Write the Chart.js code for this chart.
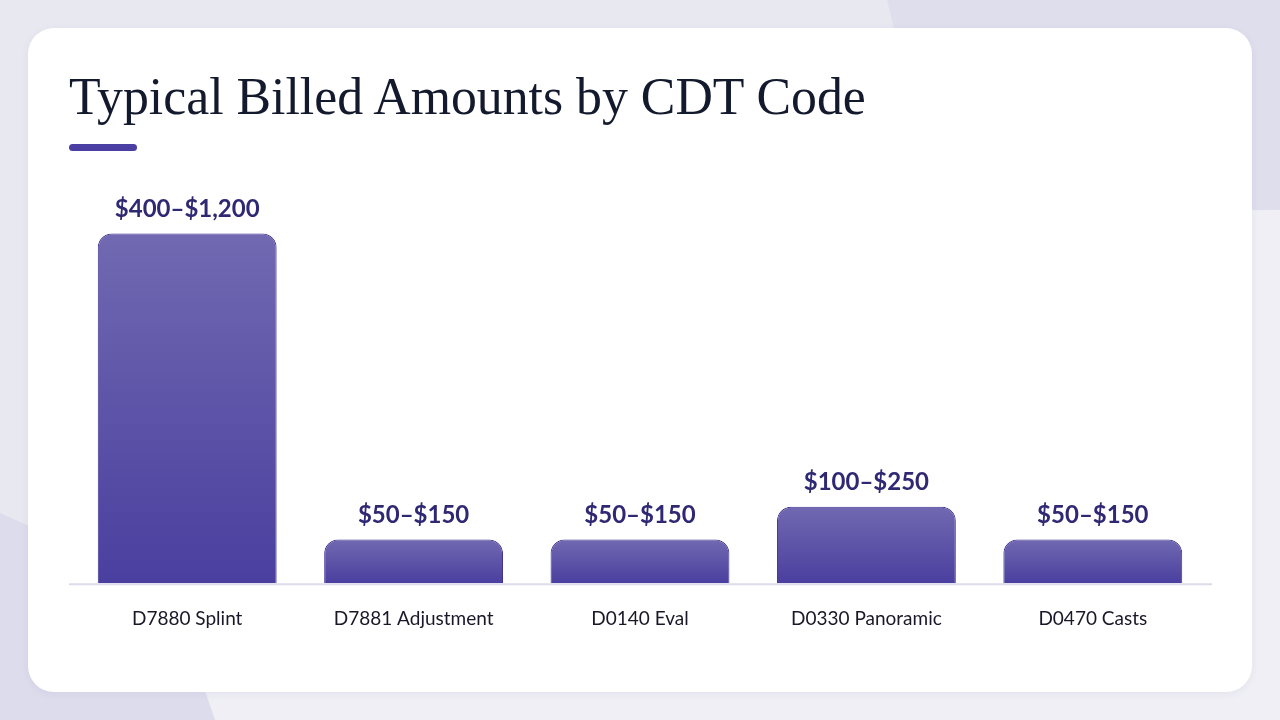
<!DOCTYPE html>
<html>
<head>
<meta charset="utf-8">
<script src="https://cdn.jsdelivr.net/npm/chart.js@4.4.1/dist/chart.umd.min.js"></script>
<style>
  html, body { margin: 0; padding: 0; width: 1280px; height: 720px; overflow: hidden; }
  body { position: relative; background: #e8e8f1; font-family: "Lato", sans-serif; }
  .shape { position: absolute; left: 0; top: 0; width: 1280px; height: 720px; }
  .tr { background: #dfdeec; clip-path: polygon(887px 0, 1280px 0, 1280px 210px, 1100px 212px, 960px 300px); }
  .br { background: #efeff5; clip-path: polygon(215px 720px, 1280px 720px, 1280px 210px, 1100px 212px, 600px 560px, 190px 640px); }
  .bl { background: #dddcec; clip-path: polygon(0 513px, 60px 540px, 190px 650px, 215px 720px, 0 720px); }
  .card { position: absolute; left: 28px; top: 28px; width: 1224px; height: 664px; background: #ffffff; border-radius: 26px; box-shadow: 0 2px 8px rgba(60,50,140,0.06); }
  h1 { position: absolute; left: 69px; top: 66px; margin: 0; font-family: "Liberation Serif", "DejaVu Serif", serif; font-weight: 400; font-size: 48px; color: #141a2e; white-space: nowrap; line-height: 1.2; }
  .accent { position: absolute; left: 69px; top: 144px; width: 68px; height: 7px; border-radius: 4px; background: #4b3fa3; }
  #wrap { position: absolute; left: 0; top: 0; width: 1280px; height: 720px; }
</style>
</head>
<body>
<div class="shape tr"></div>
<div class="shape br"></div>
<div class="shape bl"></div>
<div class="card"></div>
<h1 id="title">Typical Billed Amounts by CDT Code</h1>
<div class="accent"></div>
<div id="wrap"><canvas id="c" width="1280" height="720"></canvas></div>
<script>
// fit title width to reference (~796px)
(function(){
  const t = document.getElementById('title');
  const w = t.getBoundingClientRect().width;
  const fs = 48 * 797 / w;
  t.style.fontSize = fs.toFixed(2) + 'px';
})();

const categories = ["D7880 Splint", "D7881 Adjustment", "D0140 Eval", "D0330 Panoramic", "D0470 Casts"];
const rangeLabels = ["$400\u2013$1,200", "$50\u2013$150", "$50\u2013$150", "$100\u2013$250", "$50\u2013$150"];
const midpointValues = [800, 100, 100, 175, 100];

function barGradient(ctx) {
  const chart = ctx.chart;
  if (!chart.chartArea || ctx.type !== 'data') return '#5b51a8';
  const y = chart.scales.y;
  const top = y.getPixelForValue(ctx.raw);
  const bottom = y.getPixelForValue(0);
  const g = chart.ctx.createLinearGradient(0, top, 0, bottom);
  g.addColorStop(0, '#7169b1');
  g.addColorStop(1, '#4a3f9f');
  return g;
}

const baselinePlugin = {
  id: 'baseline',
  beforeDatasetsDraw(chart) {
    const c = chart.ctx;
    const y = chart.scales.y.getPixelForValue(0);
    c.save();
    c.strokeStyle = '#dcdbea';
    c.lineWidth = 2;
    c.beginPath();
    c.moveTo(chart.chartArea.left - 5, y + 1);
    c.lineTo(chart.chartArea.right + 6, y + 1);
    c.stroke();
    c.restore();
  }
};

const valueLabelPlugin = {
  id: 'valueLabels',
  afterDatasetsDraw(chart) {
    const c = chart.ctx;
    const meta = chart.getDatasetMeta(0);
    c.save();
    c.font = '700 24px "Lato", sans-serif';
    c.fillStyle = '#2f2873';
    c.textAlign = 'center';
    c.textBaseline = 'middle';
    meta.data.forEach((bar, i) => {
      c.fillText(rangeLabels[i], bar.x, bar.y - 24);
    });
    c.restore();
  }
};

new Chart(document.getElementById('c'), {
  type: 'bar',
  data: {
    labels: categories,
    datasets: [{
      data: midpointValues,
      backgroundColor: barGradient,
      borderColor: '#3f3493',
      borderWidth: 1,
      borderSkipped: 'bottom',
      borderRadius: { topLeft: 14, topRight: 14, bottomLeft: 0, bottomRight: 0 },
      barPercentage: 0.79,
      categoryPercentage: 1.0
    }]
  },
  options: {
    responsive: false,
    animation: false,
    devicePixelRatio: 1,
    layout: { padding: { left: 74, right: 74, top: 146, bottom: 66 } },
    plugins: { legend: { display: false }, tooltip: { enabled: false } },
    scales: {
      x: {
        grid: { display: false, drawTicks: false },
        border: { display: false },
        ticks: { color: '#1a1828', font: { family: 'Lato', size: 19 }, padding: 24 }
      },
      y: {
        display: false,
        min: 0,
        max: 1000
      }
    }
  },
  plugins: [baselinePlugin, valueLabelPlugin]
});
</script>
</body>
</html>
